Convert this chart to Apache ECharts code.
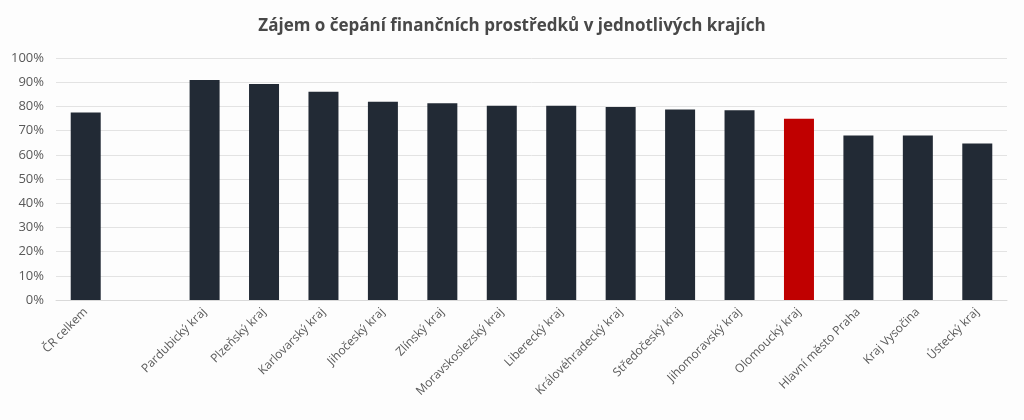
<!DOCTYPE html>
<html><head><meta charset="utf-8">
<script src="https://cdn.jsdelivr.net/npm/echarts@6/dist/echarts.min.js"></script>
<style>html,body{margin:0;padding:0;background:#fdfdfd}#c{width:1024px;height:420px}</style>
</head><body><div id="c"></div>
<script>
const categories = ['ČR celkem','','Pardubický kraj','Plzeňský kraj','Karlovarský kraj','Jihočeský kraj','Zlínský kraj','Moravskoslezský kraj','Liberecký kraj','Královéhradecký kraj','Středočeský kraj','Jihomoravský kraj','Olomoucký kraj','Hlavní město Praha','Kraj Vysočina','Ústecký kraj'];
const values = [77.5, null, 90.9, 89.3, 86.1, 81.9, 81.3, 80.3, 80.3, 79.8, 78.7, 78.4, 74.9, 68.0, 68.0, 64.7];
const highlight = 'Olomoucký kraj';
const yTicks = [0,10,20,30,40,50,60,70,80,90,100];

const chart = echarts.init(document.getElementById('c'), null, {renderer:'canvas'});
chart.setOption({
  backgroundColor:'#fdfdfd',
  animation:false,
  title:{text:'Zájem o čepání finančních prostředků v jednotlivých krajích',left:'center',top:13,
    textStyle:{fontFamily:'Open Sans',fontWeight:'bold',fontSize:17,color:'#484848'}},
  grid:{left:56,right:17,top:58,bottom:120,containLabel:false},
  xAxis:{type:'category',data:categories,
    axisLine:{lineStyle:{color:'#d9d9d9'}},axisTick:{show:false},
    axisLabel:{rotate:45,interval:0,fontFamily:'Open Sans',fontSize:12,color:'#595959',margin:10}},
  yAxis:{type:'value',min:yTicks[0],max:yTicks[yTicks.length-1],interval:10,
    axisLine:{show:false},axisTick:{show:false},
    splitLine:{lineStyle:{color:'#e3e3e3'}},
    axisLabel:{formatter:'{value}%',fontFamily:'Open Sans',fontSize:13,color:'#595959',margin:12}},
  series:[{type:'bar',barWidth:30,
    data:values.map((v,i)=>({value:v,itemStyle:{color:categories[i]===highlight?'#c00000':'#222a35'}}))}]
});
</script></body></html>
